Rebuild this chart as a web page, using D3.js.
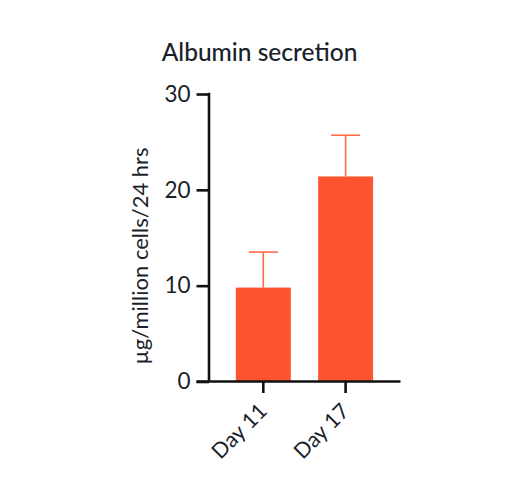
<!DOCTYPE html>
<html><head><meta charset="utf-8">
<script src="https://cdn.jsdelivr.net/npm/d3@7"></script>
<style>body{margin:0;background:#fff}svg{display:block}text{font-family:Lato,"Noto Sans",sans-serif;fill:#1b1f2a}</style>
</head><body>
<script>
const categories = ["Day 11", "Day 17"];
const means = [9.8, 21.4];
const errors = [3.7, 4.3];
const yTicks = [0, 10, 20, 30];
const title = "Albumin secretion";
const yLabel = "µg/million cells/24 hrs";

const W = 520, H = 486;
const svg = d3.select("body").append("svg").attr("width", W).attr("height", H);

const y = d3.scaleLinear().domain([0, 30]).range([381.5, 94]);
const x = d3.scaleBand().domain(categories).range([222.15, 386.75]).paddingInner(0.332).paddingOuter(0.166);
const axisLeft = 209, axisRight = 400.5;

const red = "#ff5430", errColor = "#ff6a48";

// bars
svg.selectAll("rect.bar").data(categories).join("rect")
  .attr("x", d => x(d)).attr("width", x.bandwidth())
  .attr("y", (d, i) => y(means[i])).attr("height", (d, i) => y(0) - y(means[i]))
  .attr("fill", red);

// error bars
const eg = svg.append("g").attr("stroke", errColor).attr("stroke-width", 1.6);
categories.forEach((c, i) => {
  const cx = x(c) + x.bandwidth() / 2;
  eg.append("line").attr("x1", cx).attr("x2", cx).attr("y1", y(means[i])).attr("y2", y(means[i] + errors[i]));
  eg.append("line").attr("x1", cx - 14.5).attr("x2", cx + 14.5).attr("y1", y(means[i] + errors[i])).attr("y2", y(means[i] + errors[i]));
});

// y axis
const ya = svg.append("g").attr("transform", `translate(${axisLeft},0)`)
  .call(d3.axisLeft(y).tickValues(yTicks).tickSize(12.5).tickPadding(6).tickSizeOuter(0));
ya.select(".domain").remove();
ya.append("line").attr("x1", 0).attr("x2", 0).attr("y1", y(30) - 1.3).attr("y2", y(0)).attr("stroke", "#111").attr("stroke-width", 2.6);
ya.selectAll(".tick line").attr("stroke", "#111").attr("stroke-width", 2.6);
ya.selectAll(".tick text").attr("font-size", 22.5).style("font-family", "Lato").attr("fill", "#1b1f2a");

// x axis
const xa = svg.append("g").attr("transform", `translate(0,${y(0)})`)
  .call(d3.axisBottom(x).tickSize(11.5).tickPadding(0).tickSizeOuter(0));
xa.select(".domain").remove();
xa.append("line").attr("x1", axisLeft - 12.5).attr("x2", axisRight).attr("y1", 0).attr("y2", 0).attr("stroke", "#111").attr("stroke-width", 2.6);
xa.selectAll(".tick line").attr("stroke", "#111").attr("stroke-width", 2.6);
xa.selectAll(".tick text").attr("font-size", 21.5).style("font-family", "Lato").attr("fill", "#1b1f2a")
  .attr("text-anchor", "end").attr("dy", 0).attr("y", 0)
  .attr("transform", "translate(5,31) rotate(-45)");

// title
svg.append("text").attr("x", 259.5).attr("y", 60.5).attr("text-anchor", "middle")
  .attr("font-size", 24.5).style("font-weight", 500).text(title);

// y label
svg.append("text").attr("transform", `translate(148,256) rotate(-90)`).attr("text-anchor", "middle")
  .attr("font-size", 22).text(yLabel);
</script>
</body></html>
